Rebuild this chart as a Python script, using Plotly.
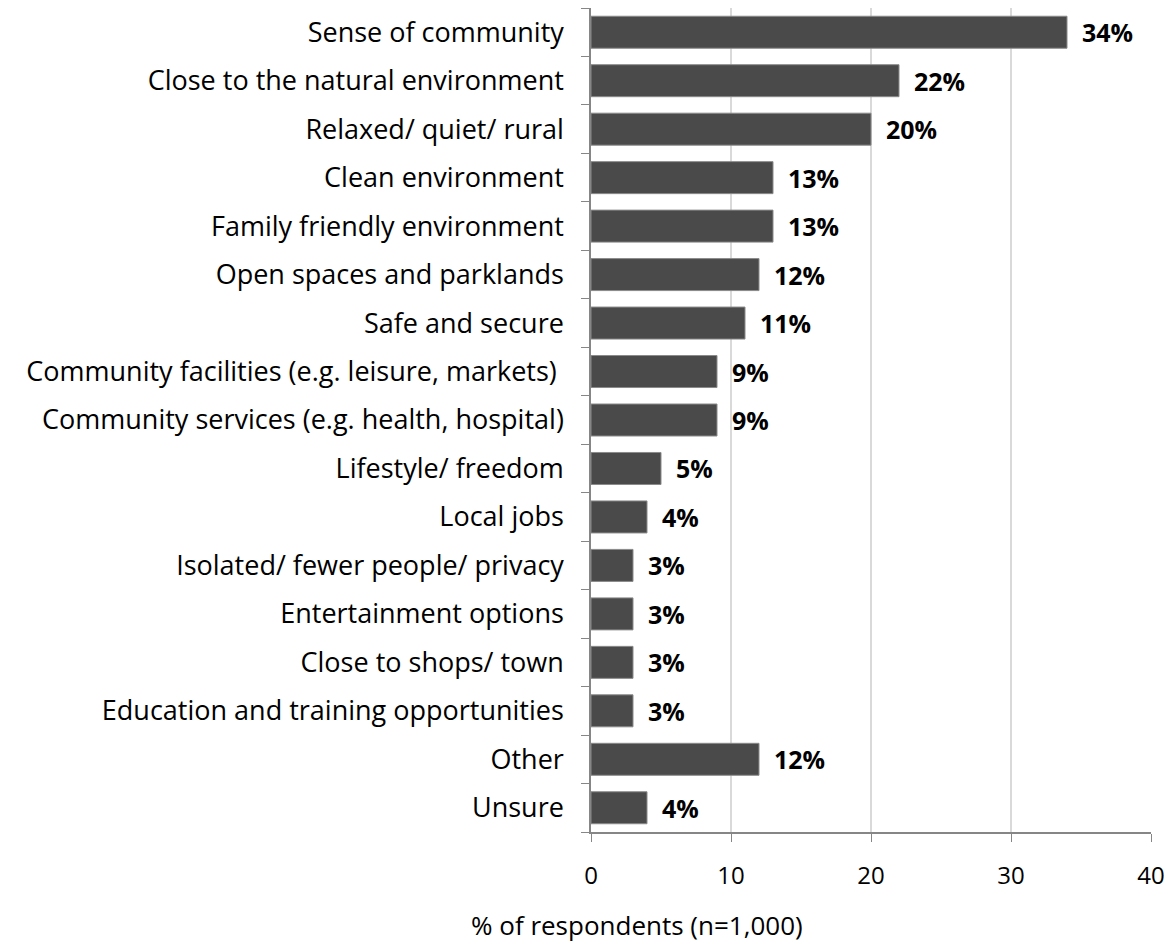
import plotly.graph_objects as go

categories = [
    "Sense of community",
    "Close to the natural environment",
    "Relaxed/ quiet/ rural",
    "Clean environment",
    "Family friendly environment",
    "Open spaces and parklands",
    "Safe and secure",
    "Community facilities (e.g. leisure, markets) ",
    "Community services (e.g. health, hospital)",
    "Lifestyle/ freedom",
    "Local jobs",
    "Isolated/ fewer people/ privacy",
    "Entertainment options",
    "Close to shops/ town",
    "Education and training opportunities",
    "Other",
    "Unsure",
]
values = [34, 22, 20, 13, 13, 12, 11, 9, 9, 5, 4, 3, 3, 3, 3, 12, 4]
x_ticks = [0, 10, 20, 30, 40]

FONT = "Open Sans"
AXIS_GREY = "#868686"

fig = go.Figure(
    go.Bar(
        x=values,
        y=categories,
        orientation="h",
        marker=dict(color="#4a4a4a", line=dict(color="#8a8a8a", width=1)),
        width=0.66,
        hoverinfo="x+y",
    )
)

# value labels placed just past the end of each bar
for cat, v in zip(categories, values):
    fig.add_annotation(
        x=v,
        y=cat,
        text=f"<b>{v}%</b>",
        showarrow=False,
        xanchor="left",
        yanchor="middle",
        xshift=13,
        font=dict(family=FONT, size=25, color="#000000"),
    )

# axis title below the tick labels
fig.add_annotation(
    x=0.082,
    y=-(925 - 832) / 824,
    xref="paper",
    yref="paper",
    text="% of respondents (n=1,000)",
    showarrow=False,
    xanchor="center",
    yanchor="middle",
    font=dict(family=FONT, size=26, color="#000000"),
)

fig.update_layout(
    width=1166,
    height=946,
    margin=dict(l=591, r=15, t=8, b=114, autoexpand=False),
    plot_bgcolor="white",
    paper_bgcolor="white",
    font=dict(family=FONT, size=25, color="#000000"),
    showlegend=False,
)

fig.update_xaxes(
    range=[0, 40],
    tickvals=x_ticks,
    showgrid=True,
    gridcolor="#d9d9d9",
    gridwidth=1.5,
    showline=True,
    linecolor=AXIS_GREY,
    linewidth=1.5,
    ticks="outside",
    ticklen=8,
    tickcolor=AXIS_GREY,
    tickfont=dict(family=FONT, size=24),
    ticklabelstandoff=13,
    zeroline=False,
    automargin=False,
)

fig.update_yaxes(
    categoryorder="array",
    categoryarray=categories[::-1],
    autorange=False,
    range=[-0.5, len(categories) - 0.5],
    showline=True,
    linecolor=AXIS_GREY,
    linewidth=1.5,
    ticks="outside",
    ticklen=8,
    tickcolor=AXIS_GREY,
    tickson="boundaries",
    tickfont=dict(family=FONT, size=27),
    ticklabelstandoff=20,
    showgrid=False,
    automargin=False,
)

fig.write_html("out.html")
